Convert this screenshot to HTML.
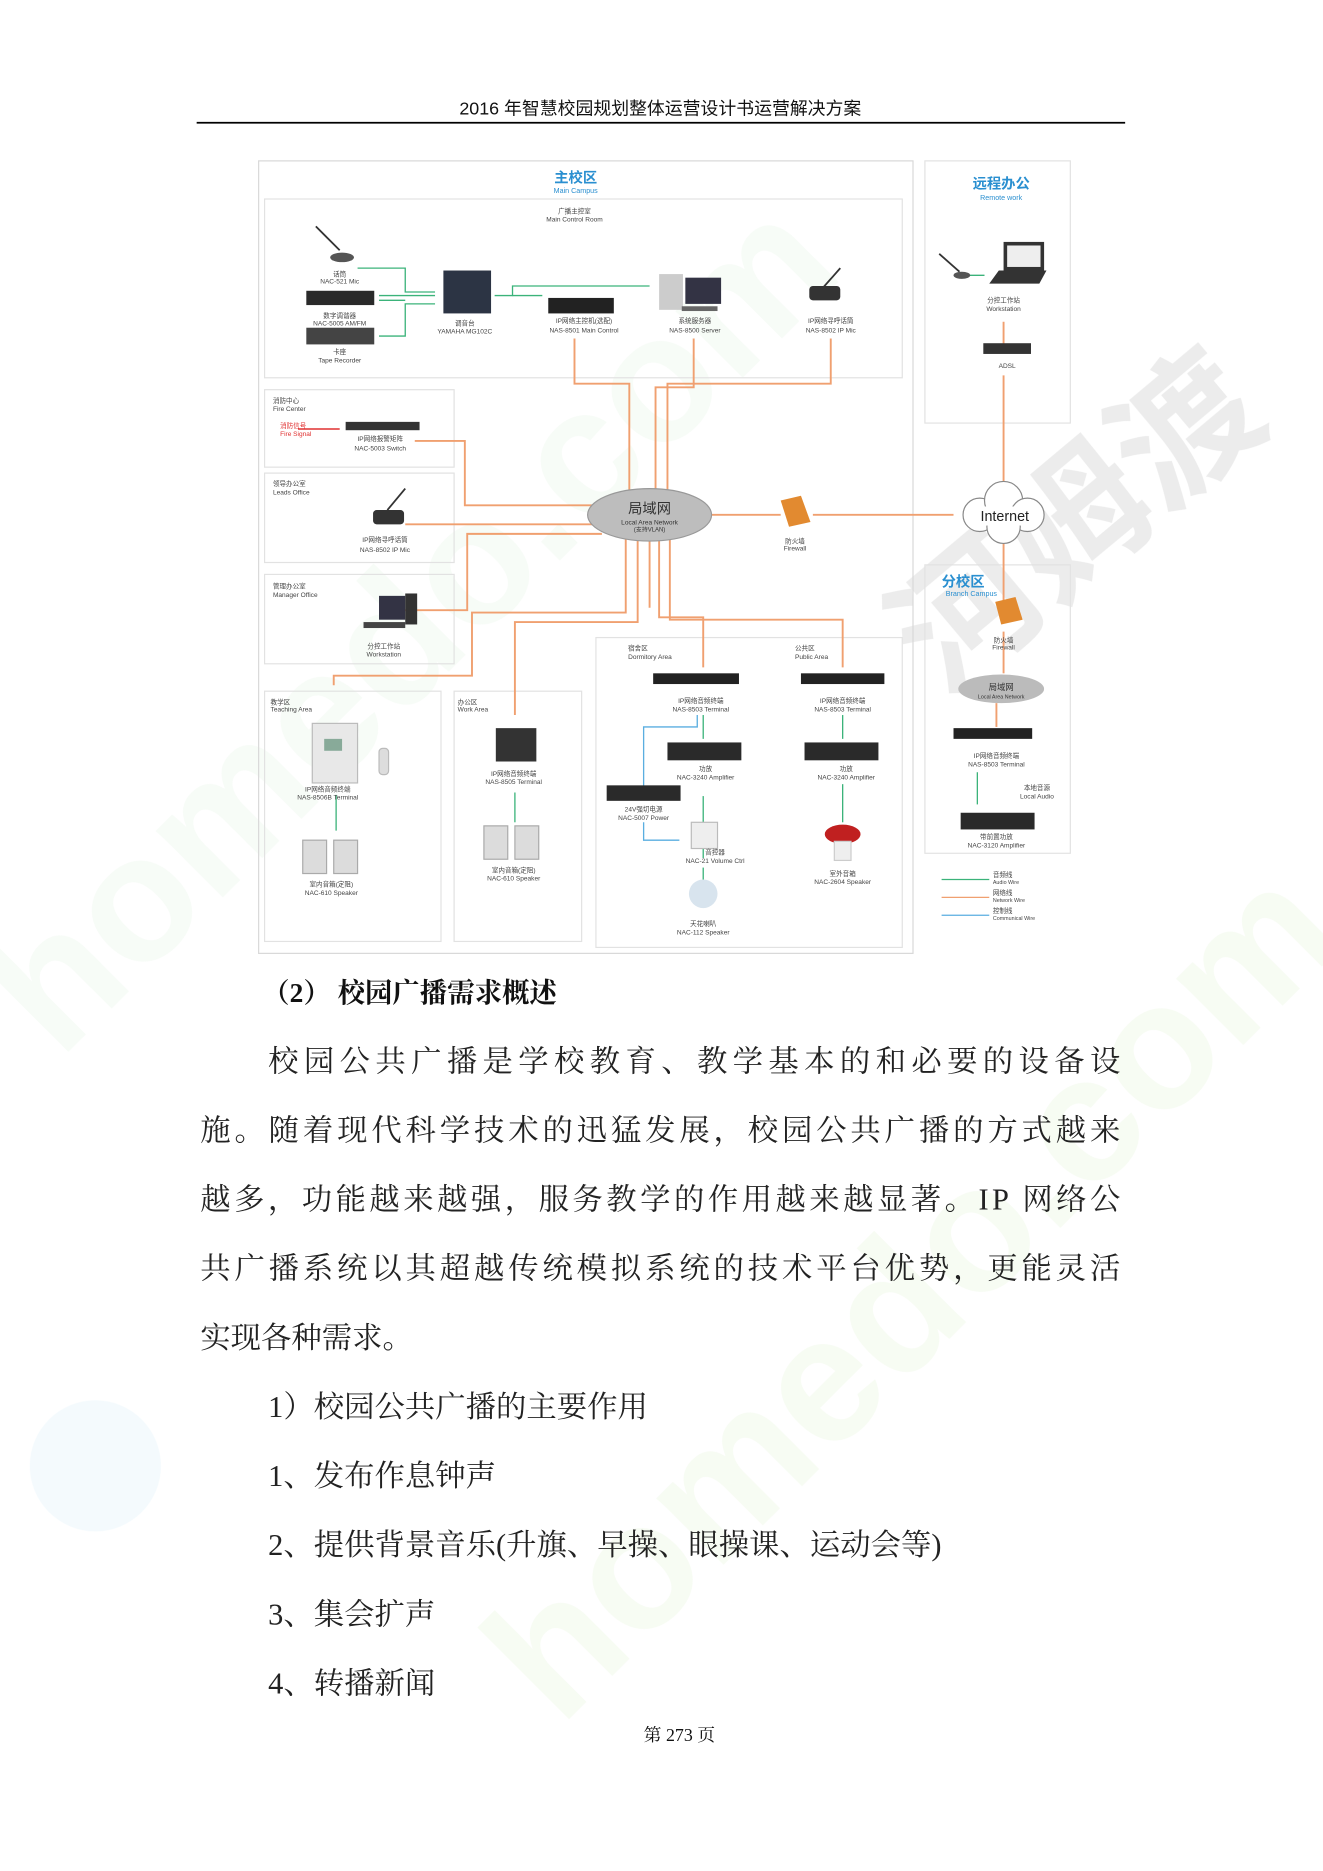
<!DOCTYPE html>
<html><head><meta charset="utf-8">
<style>
html,body{margin:0;padding:0;background:#fff;}
svg{display:block;}
.t{font-family:"Liberation Serif","Noto Serif CJK SC","Noto Sans CJK SC",serif;}
.s{font-family:"Liberation Sans","Noto Sans CJK SC",sans-serif;}
</style></head><body>
<svg width="1323" height="1871" viewBox="0 0 1110 1570" preserveAspectRatio="none" xmlns="http://www.w3.org/2000/svg">
<!-- watermarks -->
<g opacity="0.5">
<text x="0" y="0" transform="translate(930,470) rotate(-40)" class="s" font-size="120" font-weight="bold" fill="#d8d8d8" text-anchor="middle">河姆渡</text>
<text x="0" y="0" transform="translate(380,560) rotate(-45)" class="s" font-size="150" font-weight="bold" fill="#eef8ee" text-anchor="middle">homedo.com</text>
<text x="0" y="0" transform="translate(800,1120) rotate(-45)" class="s" font-size="150" font-weight="bold" fill="#eef8e6" text-anchor="middle">homedo.com</text>
<circle cx="80" cy="1230" r="55" fill="#e8f5fb"/>
</g>
<!-- header -->
<text x="554" y="96" class="s" font-size="15" text-anchor="middle" fill="#111">2016 年智慧校园规划整体运营设计书运营解决方案</text>
<line x1="165" y1="103" x2="944" y2="103" stroke="#000" stroke-width="1.5"/>

<!-- diagram frames -->
<g fill="none" stroke="#e2e2e2" stroke-width="1">
<rect x="217" y="135" width="549" height="665" stroke="#d8d8d8"/>
<rect x="776" y="135" width="122" height="220"/>
<rect x="776" y="474" width="122" height="242"/>
<rect x="222" y="167" width="535" height="150"/>
<rect x="222" y="327" width="159" height="65"/>
<rect x="222" y="397" width="159" height="75"/>
<rect x="222" y="482" width="159" height="75"/>
<rect x="222" y="580" width="148" height="210"/>
<rect x="381" y="580" width="107" height="210"/>
<rect x="500" y="535" width="257" height="260"/>
</g>
<g class="s" fill="#2a8fd0" text-anchor="middle">
<text x="483" y="153" font-size="12" font-weight="bold">主校区</text>
<text x="483" y="162" font-size="6">Main Campus</text>
<text x="840" y="158" font-size="12" font-weight="bold">远程办公</text>
<text x="840" y="168" font-size="6">Remote work</text>
<text x="808" y="492" font-size="12" font-weight="bold">分校区</text>
<text x="815" y="500" font-size="6">Branch Campus</text>
</g>

<!-- orange network lines -->
<g fill="none" stroke="#f0a070" stroke-width="1.6">
<path d="M482 284 V322 H528 V420"/>
<path d="M582 284 V325 H550 V412"/>
<path d="M697 284 V322 H560 V412"/>
<path d="M348 370 H390 V424 H500"/>
<path d="M340 440 H500"/>
<path d="M332 512 H392 V448 H505"/>
<path d="M280 575 V567 H396 V514 H525 V452"/>
<path d="M432 600 V522 H535 V452"/>
<path d="M590 560 V518 H553 V452"/>
<path d="M707 560 V520 H562 V452"/>
<path d="M545 452 V510"/>
<path d="M595 432 H655"/>
<path d="M682 432 H800"/>
<path d="M842 315 V410"/>
<path d="M842 270 V292"/>
<path d="M842 455 V512"/>
<path d="M842 530 V565"/>
<path d="M836 590 V610"/>
</g>
<!-- green audio lines -->
<g fill="none" stroke="#3bb37a" stroke-width="1.1">
<path d="M300 225 H340 V245 H365"/>
<path d="M318 248 H365"/>
<path d="M318 252 H340"/>
<path d="M318 282 H340 V255 H365"/>
<path d="M415 248 H430 V240 H545"/>
<path d="M430 248 H455"/>
<path d="M282 667 V697"/>
<path d="M432 665 V690"/>
<path d="M590 600 V620"/>
<path d="M590 668 V720"/>
<path d="M590 728 V752"/>
<path d="M707 600 V620"/>
<path d="M707 658 V690"/>
<path d="M820 648 V675"/>
<path d="M812 231 H826"/>
<path d="M790 738 H830"/>
</g>
<g fill="none" stroke="#5aaee0" stroke-width="1.1">
<path d="M585 600 V610 H540 V660"/>
<path d="M540 690 V705 H570"/>
<path d="M790 768 H830"/>
</g>
<path d="M790 753 H830" stroke="#f0a070" stroke-width="1.1"/>
<path d="M250 360 H285" stroke="#e03030" stroke-width="1.2"/>

<!-- devices -->
<g>
<line x1="265" y1="190" x2="285" y2="210" stroke="#333" stroke-width="1.5"/><ellipse cx="287" cy="216" rx="10" ry="4" fill="#555"/>
<rect x="257" y="244" width="57" height="12" fill="#2a2a2a"/>
<rect x="257" y="275" width="57" height="14" fill="#444"/>
<rect x="372" y="227" width="40" height="36" fill="#2c3444"/>
<rect x="460" y="250" width="55" height="13" fill="#222"/>
<rect x="553" y="230" width="20" height="30" fill="#ccc"/><rect x="575" y="233" width="30" height="22" fill="#334"/><rect x="572" y="257" width="30" height="4" fill="#666"/>
<line x1="705" y1="225" x2="690" y2="242" stroke="#333" stroke-width="1.5"/><rect x="679" y="240" width="26" height="12" rx="3" fill="#333"/>
<rect x="290" y="354" width="62" height="7" fill="#333"/>
<line x1="340" y1="410" x2="325" y2="428" stroke="#333" stroke-width="1.5"/><rect x="313" y="428" width="26" height="12" rx="3" fill="#333"/>
<rect x="318" y="500" width="22" height="20" fill="#334"/><rect x="340" y="498" width="10" height="26" fill="#333"/><rect x="305" y="522" width="35" height="5" fill="#444"/>
<rect x="262" y="607" width="38" height="50" fill="#e8e8e8" stroke="#bbb"/><rect x="272" y="620" width="15" height="10" fill="#8a9"/>
<rect x="318" y="628" width="8" height="22" rx="3" fill="#ddd" stroke="#bbb"/>
<rect x="254" y="705" width="20" height="28" fill="#dcdcdc" stroke="#aaa"/><rect x="280" y="705" width="20" height="28" fill="#dcdcdc" stroke="#aaa"/>
<rect x="416" y="611" width="34" height="28" fill="#333"/>
<rect x="406" y="693" width="20" height="28" fill="#dcdcdc" stroke="#aaa"/><rect x="432" y="693" width="20" height="28" fill="#dcdcdc" stroke="#aaa"/>
<rect x="548" y="565" width="72" height="9" fill="#222"/><rect x="672" y="565" width="70" height="9" fill="#222"/>
<rect x="560" y="623" width="62" height="15" fill="#2a2a2a"/><rect x="675" y="623" width="62" height="15" fill="#2a2a2a"/>
<rect x="509" y="659" width="62" height="13" fill="#2a2a2a"/>
<rect x="580" y="690" width="22" height="22" fill="#eee" stroke="#bbb"/>
<ellipse cx="590" cy="750" rx="12" ry="12" fill="#d8e4ee"/>
<ellipse cx="707" cy="700" rx="15" ry="8" fill="#c02020"/><rect x="700" y="706" width="14" height="16" fill="#eee" stroke="#ccc"/>
<path d="M655 420 L672 416 L680 438 L662 442 Z" fill="#e28a30"/>
<path d="M835 505 L852 501 L858 520 L840 524 Z" fill="#e28a30"/>
<line x1="788" y1="213" x2="805" y2="228" stroke="#333" stroke-width="1.5"/><ellipse cx="807" cy="231" rx="7" ry="3" fill="#555"/>
<rect x="842" y="203" width="34" height="24" fill="#333"/><rect x="845" y="206" width="28" height="18" fill="#eee"/><path d="M838 227 H878 L872 238 H830 Z" fill="#333"/>
<rect x="825" y="288" width="40" height="9" fill="#333"/>
<rect x="800" y="611" width="66" height="9" fill="#222"/>
<rect x="806" y="682" width="62" height="14" fill="#2a2a2a"/>
<ellipse cx="545" cy="432" rx="52" ry="22" fill="#bdbdbd" stroke="#999"/>
<ellipse cx="840" cy="578" rx="36" ry="12" fill="#bbb"/>
<g fill="#fff" stroke="#888"><circle cx="822" cy="432" r="14"/><circle cx="842" cy="420" r="16"/><circle cx="862" cy="432" r="14"/><circle cx="842" cy="442" r="14"/></g>
<rect x="815" y="425" width="54" height="16" fill="#fff"/>
</g>
<g class="s" fill="#333" text-anchor="middle">
<text x="545" y="431" font-size="12">局域网</text><text x="545" y="440" font-size="5.5">Local Area Network</text><text x="545" y="446" font-size="5">(支持VLAN)</text>
<text x="843" y="437" font-size="12" fill="#222">Internet</text>
<text x="840" y="579" font-size="7">局域网</text><text x="840" y="586" font-size="4.5">Local Area Network</text>
</g>
<g class="s" fill="#444" font-size="5.5" text-anchor="middle">
<text x="482" y="179">广播主控室</text><text x="482" y="186">Main Control Room</text>
<text x="285" y="232">话筒</text><text x="285" y="238">NAC-521 Mic</text>
<text x="285" y="267">数字调谐器</text><text x="285" y="273">NAC-5005 AM/FM</text>
<text x="285" y="297">卡座</text><text x="285" y="304">Tape Recorder</text>
<text x="390" y="273">调音台</text><text x="390" y="280">YAMAHA MG102C</text>
<text x="490" y="271">IP网络主控机(选配)</text><text x="490" y="279">NAS-8501 Main Control</text>
<text x="583" y="271">系统服务器</text><text x="583" y="279">NAS-8500 Server</text>
<text x="697" y="271">IP网络寻呼话筒</text><text x="697" y="279">NAS-8502 IP Mic</text>
<text x="319" y="370">IP网络报警矩阵</text><text x="319" y="378">NAC-5003 Switch</text>
<text x="323" y="455">IP网络寻呼话筒</text><text x="323" y="463">NAS-8502 IP Mic</text>
<text x="322" y="544">分控工作站</text><text x="322" y="551">Workstation</text>
<text x="275" y="664">IP网络音频终端</text><text x="275" y="671">NAS-8506B Terminal</text>
<text x="278" y="744">室内音箱(定阻)</text><text x="278" y="751">NAC-610 Speaker</text>
<text x="431" y="651">IP网络音频终端</text><text x="431" y="658">NAS-8505 Terminal</text>
<text x="431" y="732">室内音箱(定阻)</text><text x="431" y="739">NAC-610 Speaker</text>
<text x="588" y="590">IP网络音频终端</text><text x="588" y="597">NAS-8503 Terminal</text>
<text x="707" y="590">IP网络音频终端</text><text x="707" y="597">NAS-8503 Terminal</text>
<text x="592" y="647">功放</text><text x="592" y="654">NAC-3240 Amplifier</text>
<text x="710" y="647">功放</text><text x="710" y="654">NAC-3240 Amplifier</text>
<text x="540" y="681">24V强切电源</text><text x="540" y="688">NAC-5007 Power</text>
<text x="600" y="717">音控器</text><text x="600" y="724">NAC-21 Volume Ctrl</text>
<text x="707" y="735">室外音箱</text><text x="707" y="742">NAC-2604 Speaker</text>
<text x="590" y="777">天花喇叭</text><text x="590" y="784">NAC-112 Speaker</text>
<text x="842" y="254">分控工作站</text><text x="842" y="261">Workstation</text>
<text x="845" y="309">ADSL</text>
<text x="842" y="539">防火墙</text><text x="842" y="545">Firewall</text>
<text x="667" y="456">防火墙</text><text x="667" y="462">Firewall</text>
<text x="836" y="636">IP网络音频终端</text><text x="836" y="643">NAS-8503 Terminal</text>
<text x="870" y="663">本地音源</text><text x="870" y="670">Local Audio</text>
<text x="836" y="704">带前置功放</text><text x="836" y="711">NAC-3120 Amplifier</text>
</g>
<g class="s" fill="#444" font-size="5.5">
<text x="229" y="338">消防中心</text><text x="229" y="345">Fire Center</text>
<text x="235" y="359" fill="#e03030">消防信号</text><text x="235" y="366" fill="#e03030">Fire Signal</text>
<text x="229" y="408">领导办公室</text><text x="229" y="415">Leads Office</text>
<text x="229" y="494">管理办公室</text><text x="229" y="501">Manager Office</text>
<text x="227" y="591">教学区</text><text x="227" y="597">Teaching Area</text>
<text x="384" y="591">办公区</text><text x="384" y="597">Work Area</text>
<text x="527" y="546">宿舍区</text><text x="527" y="553">Dormitory Area</text>
<text x="667" y="546">公共区</text><text x="667" y="553">Public Area</text>
<text x="833" y="736">音频线</text><text x="833" y="742" font-size="4.5">Audio Wire</text>
<text x="833" y="751">网络线</text><text x="833" y="757" font-size="4.5">Network Wire</text>
<text x="833" y="766">控制线</text><text x="833" y="772" font-size="4.5">Communical Wire</text>
</g>

<!-- body text -->
<text x="220" y="841" class="t" font-size="23" font-weight="bold" fill="#111">（2）  校园广播需求概述</text>
<g class="t" font-size="25.5" fill="#222">
<text x="225" y="899" textLength="715" lengthAdjust="spacing">校园公共广播是学校教育、教学基本的和必要的设备设</text>
<text x="168" y="957" textLength="772" lengthAdjust="spacing">施。随着现代科学技术的迅猛发展，校园公共广播的方式越来</text>
<text x="168" y="1015" textLength="772" lengthAdjust="spacing">越多，功能越来越强，服务教学的作用越来越显著。IP 网络公</text>
<text x="168" y="1073" textLength="772" lengthAdjust="spacing">共广播系统以其超越传统模拟系统的技术平台优势，更能灵活</text>
<text x="168" y="1131">实现各种需求。</text>
<text x="225" y="1189">1）校园公共广播的主要作用</text>
<text x="225" y="1247">1、发布作息钟声</text>
<text x="225" y="1305">2、提供背景音乐(升旗、早操、眼操课、运动会等)</text>
<text x="225" y="1363">3、集会扩声</text>
<text x="225" y="1421">4、转播新闻</text>
</g>
<text x="570" y="1461" class="t" font-size="15" text-anchor="middle" fill="#111">第 273 页</text>
</svg>
</body></html>
